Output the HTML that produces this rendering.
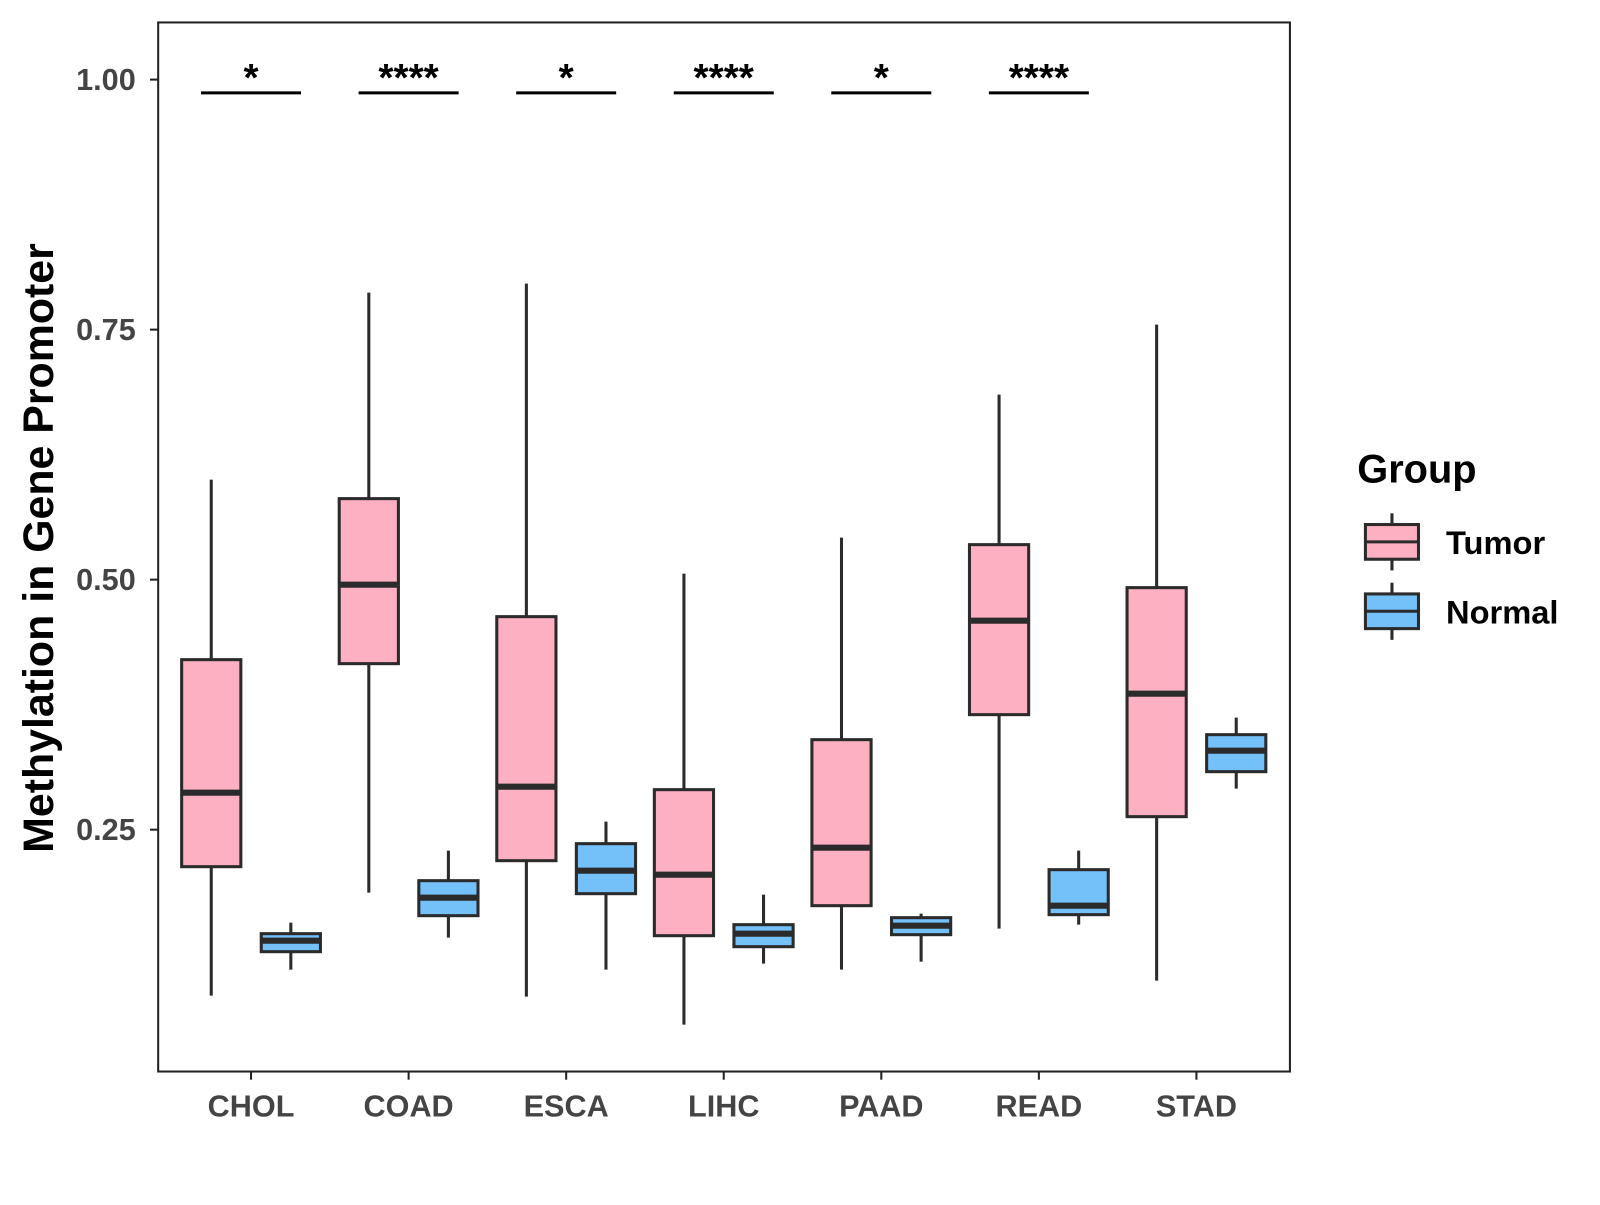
<!DOCTYPE html>
<html><head><meta charset="utf-8"><style>
body{margin:0;background:#fff;}
svg text{font-family:"Liberation Sans",Arial,sans-serif;font-weight:bold;}
</style></head><body>
<svg id="chart" width="1600" height="1200" xmlns="http://www.w3.org/2000/svg">
<g transform="scale(1.0205)">
<rect x="155" y="22" width="1109" height="1028" fill="#fff" stroke="#222" stroke-width="2"/>
<g id="marks"></g>
<text transform="translate(52,537) rotate(-90)" text-anchor="middle" font-size="42" fill="#000">Methylation in Gene Promoter</text>
<g>
<text x="1330" y="473" font-size="39" fill="#000">Group</text>
<g>
<line x1="1364" y1="503" x2="1364" y2="559" stroke="#2b2b2b" stroke-width="3"/>
<rect x="1338" y="514" width="52" height="34" fill="#FDB0C1" stroke="#2b2b2b" stroke-width="3"/>
<line x1="1338" y1="531" x2="1390" y2="531" stroke="#2b2b2b" stroke-width="3"/>
<text x="1417" y="543" font-size="32" fill="#000">Tumor</text></g>
<g>
<line x1="1364" y1="571" x2="1364" y2="627" stroke="#2b2b2b" stroke-width="3"/>
<rect x="1338" y="582" width="52" height="34" fill="#74C0F8" stroke="#2b2b2b" stroke-width="3"/>
<line x1="1338" y1="599" x2="1390" y2="599" stroke="#2b2b2b" stroke-width="3"/>
<text x="1417" y="611" font-size="32" fill="#000">Normal</text></g>
</g>
</g>
</svg>
<script>
const categories=["CHOL","COAD","ESCA","LIHC","PAAD","READ","STAD"];
const tumorMin=[0.084,0.187,0.083,0.055,0.110,0.151,0.099];
const tumorQ1=[0.213,0.416,0.219,0.144,0.174,0.365,0.263];
const tumorMed=[0.287,0.495,0.293,0.205,0.232,0.459,0.386];
const tumorQ3=[0.420,0.581,0.463,0.290,0.340,0.535,0.492];
const tumorMax=[0.600,0.787,0.796,0.506,0.542,0.685,0.755];
const normalMin=[0.110,0.142,0.110,0.116,0.118,0.155,0.291];
const normalQ1=[0.128,0.164,0.186,0.133,0.145,0.165,0.308];
const normalMed=[0.139,0.182,0.209,0.146,0.154,0.174,0.329];
const normalQ3=[0.146,0.199,0.236,0.155,0.162,0.210,0.345];
const normalMax=[0.157,0.229,0.258,0.185,0.166,0.229,0.362];
const sigLabels=["*","****","*","****","*","****",""];
const yTicks=[0.25,0.50,0.75,1.00];
const yTickLabels=["0.25","0.50","0.75","1.00"];
const NS="http://www.w3.org/2000/svg";
const g=document.getElementById('marks');
const yS=v=>1058-980*v;
const xS=i=>246+154.4*i;
function mk(tag,a){const e=document.createElementNS(NS,tag);for(const k in a)e.setAttribute(k,a[k]);g.appendChild(e);return e;}
yTicks.forEach((t,i)=>{
 const l=mk('line',{x1:147,x2:155,y1:yS(t),y2:yS(t),stroke:'#222','stroke-width':2});
 
 
 const tx=mk('text',{x:133,y:yS(t)+10,'text-anchor':'end','font-size':30,fill:'#444'});
 tx.textContent=yTickLabels[i];
 
 
});
function box(cx,mn,q1,md,q3,mx,fill,name){
 const w=58;
 const a=mk('line',{x1:cx,x2:cx,y1:yS(mx),y2:yS(mn),stroke:'#2b2b2b','stroke-width':3});
 
 
 const r=mk('rect',{x:cx-w/2,y:yS(q3),width:w,height:yS(q1)-yS(q3),fill:fill,stroke:'#2b2b2b','stroke-width':3});
 
 
 const m=mk('line',{x1:cx-w/2,x2:cx+w/2,y1:yS(md),y2:yS(md),stroke:'#2b2b2b','stroke-width':6});
 
 
}
categories.forEach((c,i)=>{
 const cx=xS(i);
 box(cx-39,tumorMin[i],tumorQ1[i],tumorMed[i],tumorQ3[i],tumorMax[i],'#FDB0C1',c.toLowerCase()+'-tumor');
 box(cx+39,normalMin[i],normalQ1[i],normalMed[i],normalQ3[i],normalMax[i],'#74C0F8',c.toLowerCase()+'-normal');
 const t=mk('line',{x1:cx,x2:cx,y1:1050,y2:1058,stroke:'#222','stroke-width':2});
 
 
 const l=mk('text',{x:cx,y:1094,'text-anchor':'middle','font-size':30,fill:'#444'});
 l.textContent=c;
 
 
 if(sigLabels[i]){
  const b=mk('line',{x1:cx-49,x2:cx+49,y1:91,y2:91,stroke:'#000','stroke-width':3});
  
  
  const s=mk('text',{x:cx,y:89,'text-anchor':'middle','font-size':38,fill:'#000'});
  s.textContent=sigLabels[i];
  
  
 }
});
</script>
</body></html>
